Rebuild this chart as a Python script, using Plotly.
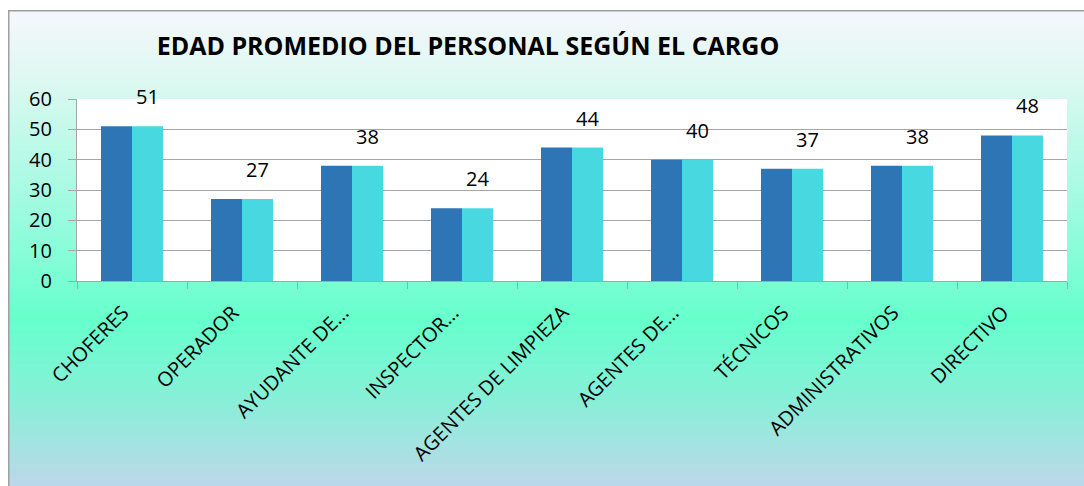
import plotly.graph_objects as go

categories = ["CHOFERES", "OPERADOR", "AYUDANTE DE…", "INSPECTOR…",
              "AGENTES DE LIMPIEZA", "AGENTES DE…", "TÉCNICOS",
              "ADMINISTRATIVOS", "DIRECTIVO"]
serie_1 = [51, 27, 38, 24, 44, 40, 37, 38, 48]
serie_2 = [51, 27, 38, 24, 44, 40, 37, 38, 48]
y_ticks = [0, 10, 20, 30, 40, 50, 60]

# body margin is removed by post_script, so figure pixels == screenshot pixels
SW, SH = 1084, 486
W, H = SW, SH
L, R, T, B = 77, 1067, 99, 281          # plot area in screenshot pixels
FONT = "Open Sans"

def px_to_paper_x(px):
    return (px - L) / (R - L)

def px_to_paper_y(py):
    return (B - py) / (B - T)

def hex2rgb(h):
    h = h.lstrip("#")
    return tuple(int(h[i:i + 2], 16) for i in (0, 2, 4))

stops = [(10, "#F6F7FC"), (80, "#DDF8F1"), (200, "#A2FBE1"),
         (320, "#66FFCC"), (400, "#88EFD8"), (486, "#BDD7EA")]

def color_at(y):
    for (y0, c0), (y1, c1) in zip(stops[:-1], stops[1:]):
        if y0 <= y <= y1:
            t = (y - y0) / (y1 - y0)
            a, b = hex2rgb(c0), hex2rgb(c1)
            return "rgb(%d,%d,%d)" % tuple(round(a[i] + (b[i] - a[i]) * t) for i in range(3))
    return stops[-1][1]

shapes = []
step = 3
y = 10
while y < SH + 4:
    shapes.append(dict(type="rect", xref="paper", yref="paper", layer="below",
                       x0=px_to_paper_x(8), x1=px_to_paper_x(SW + 5),
                       y0=px_to_paper_y(y + step + 1), y1=px_to_paper_y(y),
                       fillcolor=color_at(y + step / 2), line=dict(width=0)))
    y += step
# chart frame
shapes.append(dict(type="rect", xref="paper", yref="paper", layer="below",
                   x0=px_to_paper_x(8.75), x1=px_to_paper_x(SW + 10),
                   y0=px_to_paper_y(SH + 10), y1=px_to_paper_y(10.75),
                   fillcolor="rgba(0,0,0,0)", line=dict(color="#A0A0A0", width=1.5)))
# white plot area
shapes.append(dict(type="rect", xref="x domain", yref="y domain", layer="below",
                   x0=0, x1=1, y0=0, y1=1, fillcolor="white", line=dict(width=0)))

fig = go.Figure()
fig.add_trace(go.Bar(x=categories, y=serie_1, marker=dict(color="#2E75B6", line=dict(width=0)),
                     showlegend=False, hoverinfo="skip"))
fig.add_trace(go.Bar(x=categories, y=serie_2, marker=dict(color="#48D9E0", line=dict(width=0)),
                     showlegend=False, hoverinfo="skip"))

annotations = []
for c, v in zip(categories, serie_2):
    annotations.append(dict(x=c, y=v, xref="x", yref="y", text=str(v), showarrow=False,
                            xshift=15.5, yshift=14, yanchor="bottom",
                            font=dict(family=FONT, size=20, color="black")))

fig.update_layout(
    width=W, height=H,
    margin=dict(l=L, r=SW - R, t=T, b=SH - B, pad=0),
    paper_bgcolor="white", plot_bgcolor="white",
    barmode="group", bargap=0.436, bargroupgap=0,
    title=dict(text="<b>EDAD PROMEDIO DEL PERSONAL SEGÚN EL CARGO</b>",
               xref="container", yref="container", x=468 / W, xanchor="center",
               y=1 - 46 / H, yanchor="middle",
               font=dict(family=FONT, size=25, color="black")),
    font=dict(family=FONT, color="black"),
    shapes=shapes,
    annotations=annotations,
)
fig.update_yaxes(range=[0, 60], tickvals=y_ticks, showgrid=True, gridcolor="#A6A6A6",
                 gridwidth=1.2, showline=True, linecolor="#A6A6A6", linewidth=1.2,
                 ticks="outside", ticklen=8, tickcolor="#A6A6A6", tickwidth=1.2,
                 ticklabelstandoff=12, zeroline=False,
                 tickfont=dict(family=FONT, size=20, color="black"))
fig.update_xaxes(showline=True, linecolor="#A6A6A6", linewidth=1.2, ticks="outside",
                 tickson="boundaries", ticklen=7, tickcolor="#A6A6A6", tickwidth=1.2,
                 tickangle=-45, showgrid=False, ticklabelstandoff=11, ticklabelshift=-9,
                 tickfont=dict(family=FONT, size=20, color="black"))

fig.write_html("out.html",
               config={"displayModeBar": False},
               post_script="document.body.style.margin='0';document.body.style.overflow='hidden';")
